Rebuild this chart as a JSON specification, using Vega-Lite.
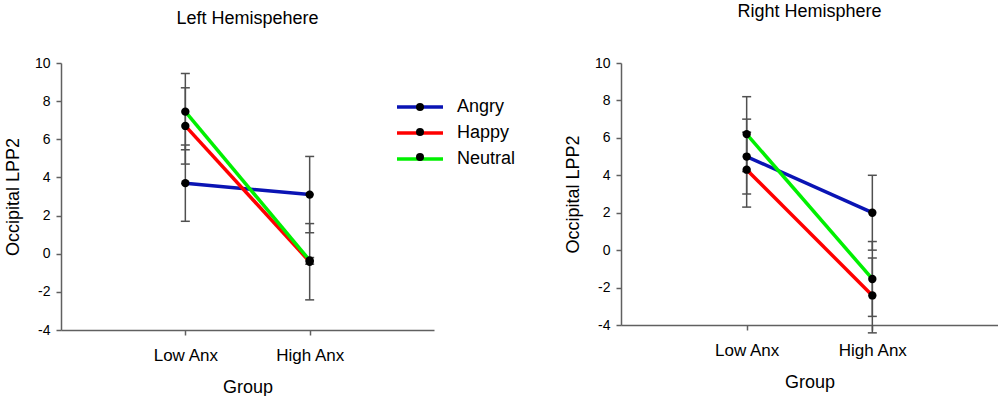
{
  "$schema": "https://vega.github.io/schema/vega-lite/v6.json",
  "description": "Occipital LPP2 by anxiety group and emotion, left and right hemisphere.",
  "padding": {"left": 4, "top": 3, "right": 0, "bottom": 0},
  "spacing": 130,
  "columns": 2,
  "align": "none",
  "config": {
    "font": "Liberation Sans",
    "view": {"stroke": null},
    "title": {"fontSize": 18, "fontWeight": "normal", "color": "black"},
    "axis": {
      "grid": false,
      "domainColor": "#606060",
      "domainWidth": 1.5,
      "tickColor": "#606060",
      "tickWidth": 1.5,
      "tickSize": 5,
      "labelColor": "black",
      "titleColor": "black",
      "titleFontWeight": "normal",
      "titleFontSize": 18
    },
    "axisX": {"labelFontSize": 17, "labelPadding": 12, "titlePadding": 15, "labelAngle": 0},
    "axisY": {"labelFontSize": 14, "labelPadding": 6, "titlePadding": 12, "labelExpr": "'' + datum.value"}
  },
  "datasets": {
    "lpp": [
      {"hemi": "Left", "group": "Low Anx", "emotion": "Angry", "mean": 3.7, "lo": 1.7, "hi": 5.7},
      {"hemi": "Left", "group": "Low Anx", "emotion": "Happy", "mean": 6.7, "lo": 4.7, "hi": 8.7},
      {"hemi": "Left", "group": "Low Anx", "emotion": "Neutral", "mean": 7.45, "lo": 5.45, "hi": 9.45},
      {"hemi": "Left", "group": "High Anx", "emotion": "Angry", "mean": 3.1, "lo": 1.1, "hi": 5.1},
      {"hemi": "Left", "group": "High Anx", "emotion": "Happy", "mean": -0.42, "lo": -2.42, "hi": 1.58},
      {"hemi": "Left", "group": "High Anx", "emotion": "Neutral", "mean": -0.35, "lo": -0.55, "hi": -0.2},
      {"hemi": "Right", "group": "Low Anx", "emotion": "Angry", "mean": 5.0, "lo": 3.0, "hi": 7.0},
      {"hemi": "Right", "group": "Low Anx", "emotion": "Happy", "mean": 4.3, "lo": 2.3, "hi": 6.3},
      {"hemi": "Right", "group": "Low Anx", "emotion": "Neutral", "mean": 6.2, "lo": 4.2, "hi": 8.2},
      {"hemi": "Right", "group": "High Anx", "emotion": "Angry", "mean": 2.0, "lo": 0.0, "hi": 4.0},
      {"hemi": "Right", "group": "High Anx", "emotion": "Happy", "mean": -2.42, "lo": -4.42, "hi": -0.42},
      {"hemi": "Right", "group": "High Anx", "emotion": "Neutral", "mean": -1.54, "lo": -3.54, "hi": 0.46}
    ]
  },
  "data": {"name": "lpp"},
  "concat": [
    {
      "width": 373,
      "height": 267,
      "title": {"text": "Left Hemispehere", "offset": 28},
      "transform": [{"filter": {"field": "hemi", "equal": "Left"}}],
      "encoding": {
        "x": {
          "field": "group",
          "type": "ordinal",
          "scale": {"type": "point", "padding": 1, "domain": ["Low Anx", "High Anx"]},
          "title": "Group"
        }
      },
      "layer": [
        {
          "mark": {"type": "rule", "color": "#505050", "strokeWidth": 1.5},
          "encoding": {
            "y": {"field": "lo", "type": "quantitative", "title": "Occipital LPP2",
                  "scale": {"domain": [-4, 10], "nice": false},
                  "axis": {"values": [-4, -2, 0, 2, 4, 6, 8, 10]}},
            "y2": {"field": "hi"}
          }
        },
        {
          "mark": {"type": "tick", "color": "#505050", "thickness": 1.5, "size": 9, "opacity": 1},
          "encoding": {"y": {"field": "lo", "type": "quantitative", "title": "Occipital LPP2",
                             "axis": {"values": [-4, -2, 0, 2, 4, 6, 8, 10]}}}
        },
        {
          "mark": {"type": "tick", "color": "#505050", "thickness": 1.5, "size": 9, "opacity": 1},
          "encoding": {"y": {"field": "hi", "type": "quantitative", "title": "Occipital LPP2",
                             "axis": {"values": [-4, -2, 0, 2, 4, 6, 8, 10]}}}
        },
        {
          "mark": {"type": "line", "strokeWidth": 3.5},
          "encoding": {
            "y": {"field": "mean", "type": "quantitative", "title": "Occipital LPP2",
                  "axis": {"values": [-4, -2, 0, 2, 4, 6, 8, 10]}},
            "color": {
              "field": "emotion",
              "type": "nominal",
              "scale": {"range": ["#0a14b4", "#ff0000", "#00f000"]},
              "legend": {
                "orient": "none",
                "legendX": 350,
                "legendY": 35,
                "title": null,
                "padding": 0,
                "symbolType": "M-5.75,0H5.75",
                "symbolSize": 64,
                "symbolStrokeWidth": 3.5,
                "labelFontSize": 18,
                "labelColor": "black",
                "labelOffset": 28,
                "rowPadding": 8
              }
            }
          }
        },
        {
          "mark": {"type": "point", "filled": true, "color": "black", "size": 70, "opacity": 1},
          "encoding": {
            "y": {"field": "mean", "type": "quantitative", "title": "Occipital LPP2",
                  "axis": {"values": [-4, -2, 0, 2, 4, 6, 8, 10]}},
            "shape": {
              "field": "emotion",
              "type": "nominal",
              "scale": {"domain": ["Angry", "Happy", "Neutral"], "range": ["circle", "circle", "circle"]},
              "legend": {
                "orient": "none",
                "legendX": 350,
                "legendY": 35,
                "title": null,
                "padding": 0,
                "symbolSize": 64,
                "symbolFillColor": "black",
                "symbolStrokeColor": "transparent",
                "symbolStrokeWidth": 0,
                "labelFontSize": 18,
                "labelOpacity": 0,
                "labelOffset": 28,
                "rowPadding": 7
              }
            }
          }
        }
      ]
    },
    {
      "width": 377,
      "height": 262,
      "title": {"text": "Right Hemisphere", "offset": 35},
      "transform": [{"filter": {"field": "hemi", "equal": "Right"}}],
      "encoding": {
        "x": {
          "field": "group",
          "type": "ordinal",
          "scale": {"type": "point", "padding": 1, "domain": ["Low Anx", "High Anx"]},
          "title": "Group"
        }
      },
      "layer": [
        {
          "mark": {"type": "rule", "color": "#505050", "strokeWidth": 1.5},
          "encoding": {
            "y": {"field": "lo", "type": "quantitative", "title": "Occipital LPP2",
                  "scale": {"domain": [-4, 10], "nice": false},
                  "axis": {"values": [-4, -2, 0, 2, 4, 6, 8, 10]}},
            "y2": {"field": "hi"}
          }
        },
        {
          "mark": {"type": "tick", "color": "#505050", "thickness": 1.5, "size": 9, "opacity": 1},
          "encoding": {"y": {"field": "lo", "type": "quantitative", "title": "Occipital LPP2",
                             "axis": {"values": [-4, -2, 0, 2, 4, 6, 8, 10]}}}
        },
        {
          "mark": {"type": "tick", "color": "#505050", "thickness": 1.5, "size": 9, "opacity": 1},
          "encoding": {"y": {"field": "hi", "type": "quantitative", "title": "Occipital LPP2",
                             "axis": {"values": [-4, -2, 0, 2, 4, 6, 8, 10]}}}
        },
        {
          "mark": {"type": "line", "strokeWidth": 3.5},
          "encoding": {
            "y": {"field": "mean", "type": "quantitative", "title": "Occipital LPP2",
                  "axis": {"values": [-4, -2, 0, 2, 4, 6, 8, 10]}},
            "color": {
              "field": "emotion",
              "type": "nominal",
              "scale": {"range": ["#0a14b4", "#ff0000", "#00f000"]},
              "legend": null
            }
          }
        },
        {
          "mark": {"type": "point", "filled": true, "color": "black", "size": 70, "opacity": 1},
          "encoding": {"y": {"field": "mean", "type": "quantitative", "title": "Occipital LPP2",
                             "axis": {"values": [-4, -2, 0, 2, 4, 6, 8, 10]}}}
        }
      ]
    }
  ]
}
